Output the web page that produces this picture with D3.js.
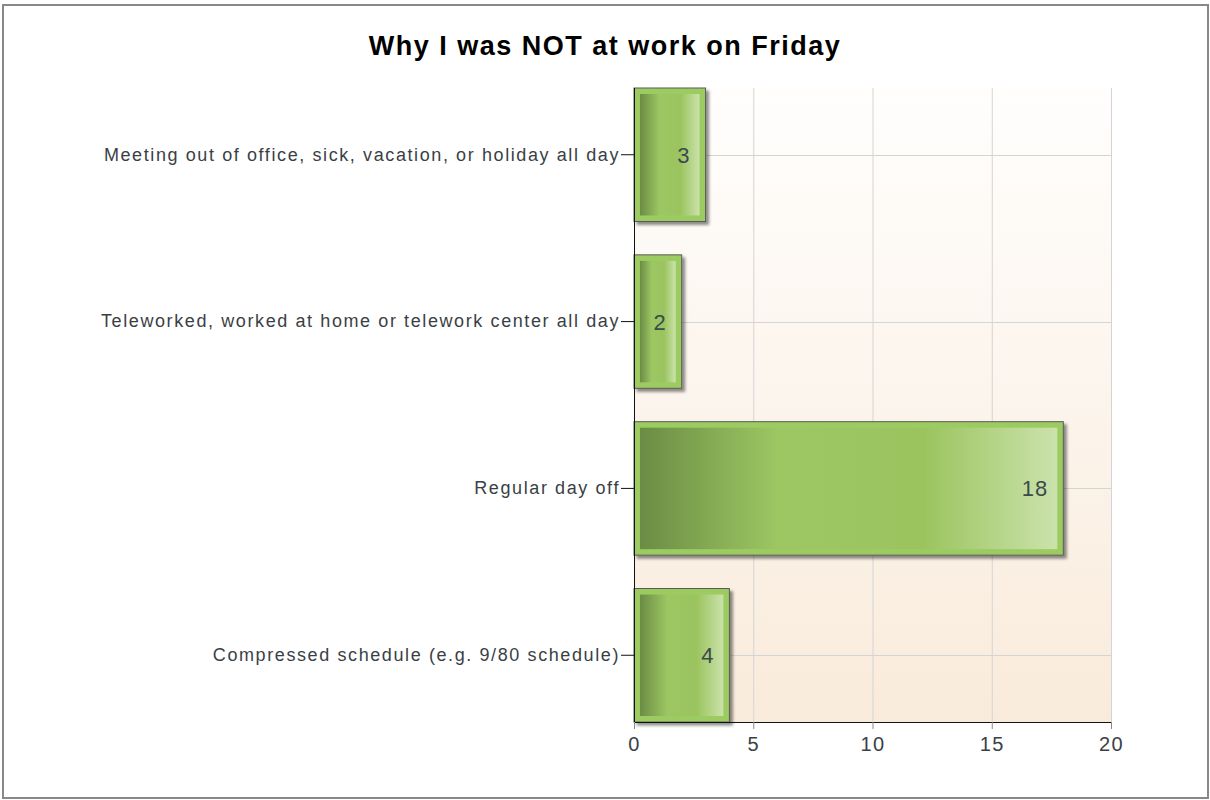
<!DOCTYPE html>
<html>
<head>
<meta charset="utf-8">
<script src="https://cdn.jsdelivr.net/npm/d3@7"></script>
<style>
  body { margin: 0; background: #fff; }
  svg { display: block; font-family: "Liberation Sans", Arial, sans-serif; }
</style>
</head>
<body>
<svg width="1210" height="800"></svg>
<script>
// Data
const categories = [
  "Meeting out of office, sick, vacation, or holiday all day",
  "Teleworked, worked at home or telework center all day",
  "Regular day off",
  "Compressed schedule (e.g. 9/80 schedule)"
];
const counts = [3, 2, 18, 4];
const xTicks = [0, 5, 10, 15, 20];

const svg = d3.select("svg"),
    width = +svg.attr("width"),
    height = +svg.attr("height");

const plotLeft = 634, plotRight = 1111, plotTop = 88, plotBottom = 722;

// outer frame
svg.append("rect")
    .attr("x", 3).attr("y", 5)
    .attr("width", width - 5).attr("height", height - 7)
    .attr("fill", "#fff")
    .attr("stroke", "#888")
    .attr("stroke-width", 2);

const defs = svg.append("defs");

const bg = defs.append("linearGradient")
    .attr("id", "bg").attr("x1", 0).attr("y1", 0).attr("x2", 0).attr("y2", 1);
bg.append("stop").attr("offset", "0%").attr("stop-color", "#fffefd");
bg.append("stop").attr("offset", "100%").attr("stop-color", "#f9ebdb");

const barGrad = defs.append("linearGradient")
    .attr("id", "barGrad").attr("x1", 0).attr("y1", 0).attr("x2", 1).attr("y2", 0);
barGrad.append("stop").attr("offset", "0%").attr("stop-color", "#6b8c44");
barGrad.append("stop").attr("offset", "33%").attr("stop-color", "#9cc763");
barGrad.append("stop").attr("offset", "68%").attr("stop-color", "#9bc45f");
barGrad.append("stop").attr("offset", "100%").attr("stop-color", "#cbe2ab");

const shadow = defs.append("filter")
    .attr("id", "shadow")
    .attr("x", "-10%").attr("y", "-10%").attr("width", "130%").attr("height", "130%");
shadow.append("feDropShadow")
    .attr("dx", 3).attr("dy", 3)
    .attr("stdDeviation", 1.8)
    .attr("flood-color", "#000")
    .attr("flood-opacity", 0.45);

// scales
const x = d3.scaleLinear().domain([0, 20]).range([plotLeft, plotRight]);
const y = d3.scaleBand().domain(categories).range([plotTop, plotBottom])
    .paddingInner(0.2).paddingOuter(0);

// plot background
svg.append("rect")
    .attr("x", plotLeft).attr("y", plotTop)
    .attr("width", plotRight - plotLeft).attr("height", plotBottom - plotTop)
    .attr("fill", "url(#bg)");

// grid
svg.append("g")
  .selectAll("line")
  .data(xTicks.slice(1))
  .join("line")
    .attr("x1", d => x(d) + 0.5).attr("x2", d => x(d) + 0.5)
    .attr("y1", plotTop).attr("y2", plotBottom)
    .attr("stroke", "#d4d4d4");

svg.append("g")
  .selectAll("line")
  .data(categories)
  .join("line")
    .attr("x1", plotLeft).attr("x2", plotRight)
    .attr("y1", d => Math.round(y(d) + y.bandwidth() / 2) + 0.5)
    .attr("y2", d => Math.round(y(d) + y.bandwidth() / 2) + 0.5)
    .attr("stroke", "#d4d4d4");

// bars
const bars = svg.append("g")
  .selectAll("g")
  .data(categories.map((c, i) => ({ cat: c, value: counts[i] })))
  .join("g");

bars.append("rect")
    .attr("x", plotLeft)
    .attr("y", d => y(d.cat))
    .attr("width", d => x(d.value) - plotLeft)
    .attr("height", y.bandwidth())
    .attr("fill", "#9ccb62")
    .attr("stroke", "#5a5a5a")
    .attr("stroke-width", 1)
    .attr("filter", "url(#shadow)");

bars.append("text")
    .attr("x", d => x(d.value) - 15)
    .attr("y", d => y(d.cat) + y.bandwidth() / 2 + 8)
    .attr("text-anchor", "end")
    .attr("font-size", "22px")
    .attr("letter-spacing", "1px")
    .attr("fill", "#3b4b4b")
    .text(d => d.value);

bars.insert("rect", "text")
    .attr("x", plotLeft + 6)
    .attr("y", d => y(d.cat) + 6)
    .attr("width", d => x(d.value) - plotLeft - 12)
    .attr("height", y.bandwidth() - 12)
    .attr("fill", "url(#barGrad)");

// axes
const yAxis = svg.append("g")
    .attr("transform", `translate(${plotLeft},0)`)
    .call(d3.axisLeft(y).tickSize(13).tickPadding(1));
yAxis.select(".domain").attr("stroke", "#111").attr("d", `M0.5,${plotTop}V${plotBottom}`);
yAxis.selectAll(".tick line").attr("stroke", "#111");
yAxis.selectAll("text")
    .attr("fill", "#3a3f46")
    .attr("font-size", "18px")
    .attr("letter-spacing", "1.6px")
    .attr("font-family", "Liberation Sans, Arial, sans-serif");

const xAxis = svg.append("g")
    .attr("transform", `translate(0,${plotBottom})`)
    .call(d3.axisBottom(x).tickValues(xTicks).tickSize(7).tickPadding(8));
xAxis.select(".domain").attr("stroke", "#111").attr("d", `M${plotLeft},0.5H${plotRight}`);
xAxis.selectAll(".tick line").attr("stroke", "#888");
xAxis.selectAll("text")
    .attr("fill", "#3a3f46")
    .attr("font-size", "20px")
    .attr("letter-spacing", "1.5px")
    .attr("font-family", "Liberation Sans, Arial, sans-serif");

// title
svg.append("text")
    .attr("x", 605).attr("y", 55)
    .attr("text-anchor", "middle")
    .attr("font-size", "27px")
    .attr("font-weight", "bold")
    .attr("letter-spacing", "1.5px")
    .attr("fill", "#000")
    .text("Why I was NOT at work on Friday");
</script>
</body>
</html>
